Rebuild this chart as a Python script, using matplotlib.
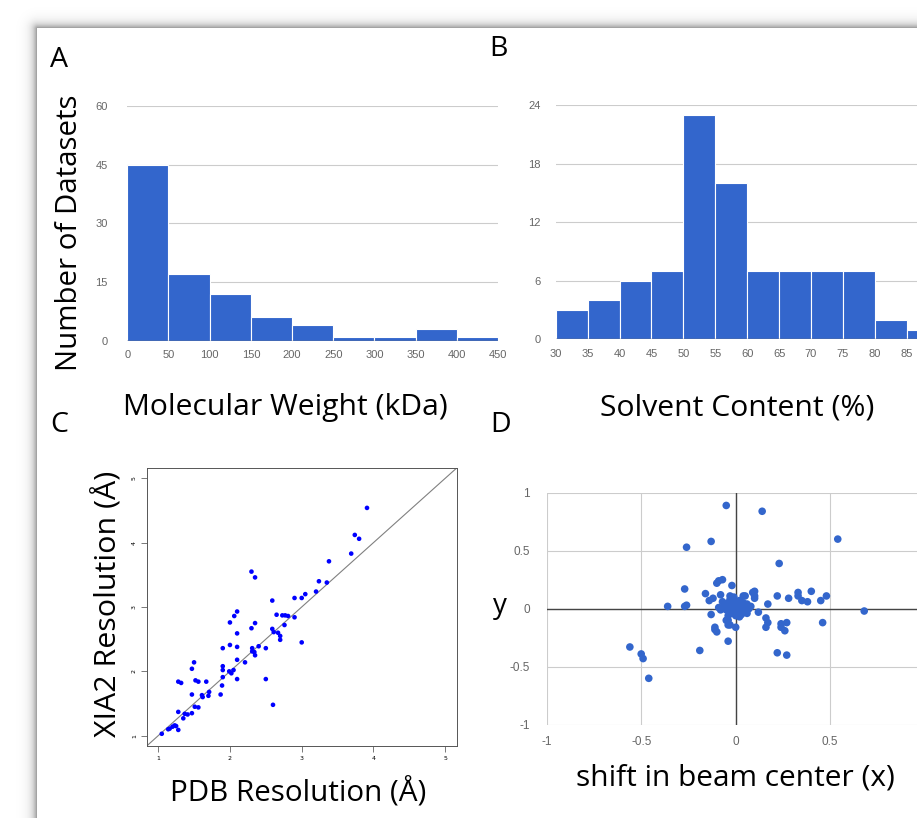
import numpy as np
import matplotlib.pyplot as plt

plt.rcParams['axes.unicode_minus'] = False

W, H = 917, 818
BLUE = '#3366CC'
LABEL_FONT = 'Open Sans'
TICK_FONT = 'Liberation Sans'

# A: molecular weight histogram
mw_edges = [0, 50, 100, 150, 200, 250, 300, 350, 400, 450]
mw_counts = [45, 17, 12, 6, 4, 1, 1, 3, 1]
mw_yticks = [0, 15, 30, 45, 60]

# B: solvent content histogram
sc_edges = [30, 35, 40, 45, 50, 55, 60, 65, 70, 75, 80, 85, 90]
sc_counts = [3, 4, 6, 7, 23, 16, 7, 7, 7, 7, 2, 1]
sc_yticks = [0, 6, 12, 18, 24]

# C: PDB vs XIA2 resolution
pdb_res = [1.05, 1.14, 1.16, 1.20, 1.23, 1.25, 1.28, 1.28, 1.28, 1.32,
           1.35, 1.37, 1.41, 1.47, 1.47, 1.47, 1.50, 1.51, 1.52, 1.56,
           1.56, 1.61, 1.62, 1.67, 1.70, 1.71, 1.87, 1.89, 1.90, 1.90,
           1.90, 1.90, 1.99, 2.00, 2.00, 2.02, 2.05, 2.06, 2.10, 2.10,
           2.10, 2.10, 2.10, 2.21, 2.30, 2.35, 2.35, 2.30, 2.31, 2.31,
           2.34, 2.35, 2.40, 2.50, 2.50, 2.59, 2.59, 2.60, 2.61, 2.65,
           2.67, 2.70, 2.70, 2.73, 2.76, 2.77, 2.81, 2.90, 2.90, 3.00,
           3.00, 3.05, 3.20, 3.24, 3.35, 3.38, 3.69, 3.74, 3.80, 3.91]
xia2_res = [1.03, 1.10, 1.11, 1.14, 1.16, 1.15, 1.09, 1.37, 1.84, 1.82,
            1.27, 1.34, 1.33, 1.35, 1.64, 2.04, 2.14, 1.45, 1.86, 1.84,
            1.44, 1.63, 1.60, 1.84, 1.62, 1.68, 1.64, 1.78, 1.91, 2.36,
            2.02, 2.08, 2.00, 2.41, 2.76, 1.97, 2.02, 2.86, 2.93, 2.59,
            2.38, 2.18, 1.88, 2.14, 3.55, 3.46, 2.75, 2.67, 2.36, 2.31,
            2.30, 2.25, 2.39, 2.36, 1.88, 3.10, 2.66, 1.48, 2.61, 2.88,
            2.60, 2.55, 2.49, 2.87, 2.72, 2.87, 2.86, 3.14, 2.84, 2.45,
            3.14, 3.20, 3.24, 3.40, 3.38, 3.71, 3.83, 4.12, 4.06, 4.54]
res_ticks = [1, 2, 3, 4, 5]

# D: beam centre shift
shift_x = [-0.05, 0.14, -0.13, -0.26, 0.54, 0.23, -0.10, -0.09, -0.07, -0.02,
           -0.27, -0.16, -0.12, -0.14, -0.08, -0.03, 0.10, 0.10, 0.10, 0.04,
           0.22, 0.28, 0.33, 0.33, 0.40, 0.35, 0.38, 0.45, 0.48, 0.17,
           -0.36, -0.27, -0.26, 0.68, 0.12, -0.13, -0.09, -0.08, 0.16, 0.17,
           0.16, -0.04, -0.04, -0.03, 0.00, -0.11, -0.10, -0.11, 0.24, 0.27,
           0.24, 0.26, 0.46, -0.04, -0.19, 0.22, 0.27, -0.56, -0.50, -0.49,
           -0.46, 0.05, 0.09, -0.05,
           -0.06, -0.05, -0.04, -0.03, -0.03, -0.02, -0.02, -0.01, -0.01, 0.00,
           0.00, 0.00, 0.01, 0.01, 0.02, 0.02, 0.03, 0.03, 0.04, 0.04,
           0.05, 0.06, 0.06, 0.07, -0.07, 0.02, -0.04, 0.08]
shift_y = [0.89, 0.84, 0.58, 0.53, 0.60, 0.39, 0.22, 0.24, 0.25, 0.20,
           0.17, 0.13, 0.09, 0.07, 0.12, 0.11, 0.15, 0.11, 0.09, 0.11,
           0.11, 0.09, 0.14, 0.11, 0.15, 0.07, 0.06, 0.07, 0.11, 0.04,
           0.02, 0.02, 0.03, -0.02, -0.03, -0.05, 0.01, -0.01, -0.08, -0.12,
           -0.16, -0.10, -0.14, -0.14, -0.16, -0.16, -0.20, -0.18, -0.13, -0.12,
           -0.16, -0.19, -0.12, -0.28, -0.36, -0.38, -0.40, -0.33, -0.39, -0.43,
           -0.60, 0.11, 0.14, -0.10,
           0.03, -0.01, 0.05, 0.08, 0.00, -0.04, 0.04, 0.10, -0.02, 0.02,
           0.06, -0.06, -0.03, 0.03, 0.00, 0.07, -0.05, 0.02, 0.05, -0.02,
           0.01, -0.04, 0.04, 0.00, 0.06, -0.07, -0.06, 0.02]
shift_ticks = [-1, -0.5, 0, 0.5, 1]

fig = plt.figure(figsize=(W / 100, H / 100), dpi=100)
renderer = fig.canvas.get_renderer()


def px_axes(left, top, right, bottom):
    # axes placed by pixel edges of the 917x818 canvas
    return fig.add_axes([left / W, 1 - bottom / H, (right - left) / W, (bottom - top) / H])


def label(x, y, s, size=20, span=None, **kw):
    t = fig.text(x / W, 1 - y / H, s, fontsize=size, family=LABEL_FONT, color='black', **kw)
    if span is not None:
        # scale the font so the text covers the same length as in the reference
        for _ in range(2):
            bb = t.get_window_extent(renderer)
            cur = bb.height if kw.get('rotation') == 90 else bb.width
            t.set_fontsize(t.get_fontsize() * span / cur)
    return t


# page with a soft drop shadow
bg = fig.add_axes([0, 0, 1, 1], zorder=-10)
yy, xx = np.mgrid[0:H, 0:W]
d = np.hypot(np.clip(37 - xx, 0, None), np.clip(28 - yy, 0, None))
shade = np.where((xx >= 37) & (yy >= 28), 1.0, 1 - 0.45 * np.exp(-d / 4.5))
bg.imshow(shade, cmap='gray', vmin=0, vmax=1, extent=[0, W, H, 0], aspect='auto')
bg.axis('off')


def google_hist(ax, edges, counts, yticks, ypad):
    ax.bar(edges[:-1], counts, width=np.diff(edges), align='edge', color=BLUE,
           edgecolor='white', linewidth=0.8, zorder=3)
    ax.set_xlim(edges[0], edges[-1])
    ax.set_ylim(yticks[0], yticks[-1])
    ax.set_xticks(edges)
    ax.set_yticks(yticks)
    ax.set_axisbelow(True)
    ax.grid(axis='y', color='#cccccc', linewidth=0.8)
    ax.axhline(0, color='#555555', linewidth=1.0, zorder=4)
    for s in ax.spines.values():
        s.set_visible(False)
    ax.tick_params(length=0, labelsize=8, labelcolor='#666666')
    ax.tick_params(axis='x', pad=7)
    ax.tick_params(axis='y', pad=ypad)
    for t in ax.get_xticklabels() + ax.get_yticklabels():
        t.set_family(TICK_FONT)


# A
axA = px_axes(127.3, 106, 498, 340.7)
google_hist(axA, mw_edges, mw_counts, mw_yticks, 14)

# B (runs off the right edge of the page)
axB = px_axes(555.7, 105, 555.7 + 60 * 6.382, 339.3)
google_hist(axB, sc_edges, sc_counts, sc_yticks, 11)
axB.set_xticks(sc_edges[:-1])

# C
axC = px_axes(146.7, 468, 456.7, 746)
axC.set_xlim(0.84, 5.16)
axC.set_ylim(0.84, 5.16)
axC.plot([0.84, 5.16], [0.84, 5.16], color='#808080', linewidth=0.8, zorder=2)
axC.scatter(pdb_res, xia2_res, s=11, color='#0000FF', edgecolors='none', zorder=3)
axC.set_xticks(res_ticks)
axC.set_yticks(res_ticks)
axC.tick_params(direction='out', length=4, width=0.5, labelsize=4.5, pad=3, color='#444444')
for t in axC.get_yticklabels():
    t.set_rotation(90)
    t.set_va('center')
for s in axC.spines.values():
    s.set_color('#555555')
    s.set_linewidth(0.7)

# D (runs off the right edge of the page)
axD = px_axes(546.7, 492.7, 924.7, 724.7)
axD.set_xlim(-1, 1)
axD.set_ylim(-1, 1)
axD.set_xticks(shift_ticks)
axD.set_yticks(shift_ticks)
axD.set_xticklabels(['%g' % v for v in shift_ticks[:-1]] + [''])
axD.set_yticklabels(['%g' % v for v in shift_ticks])
axD.set_axisbelow(True)
axD.grid(color='#cccccc', linewidth=0.8)
axD.axhline(0, color='#444444', linewidth=1.0, zorder=2)
axD.axvline(0, color='#444444', linewidth=1.0, zorder=2)
axD.scatter(shift_x, shift_y, s=30, color=BLUE, edgecolors='none', zorder=3)
for s in axD.spines.values():
    s.set_visible(False)
axD.tick_params(length=0, labelsize=8.5, labelcolor='#666666')
axD.tick_params(axis='x', pad=8)
axD.tick_params(axis='y', pad=12)
for t in axD.get_xticklabels() + axD.get_yticklabels():
    t.set_family(TICK_FONT)

# panel letters and axis titles
label(50, 60, 'A', 20.5, ha='left', va='center')
label(489, 49, 'B', 20.5, ha='left', va='center')
label(50, 425, 'C', 20.5, ha='left', va='center')
label(490, 425, 'D', 20.5, ha='left', va='center')

label(285.5, 415, 'Molecular Weight (kDa)', span=325, ha='center', va='baseline')
label(737.5, 415, 'Solvent Content (%)', span=275, ha='center', va='baseline')
label(70, 233, 'Number of Datasets', span=276, ha='center', va='center', rotation=90)
label(108, 604, 'XIA2 Resolution (Å)', span=266, ha='center', va='center', rotation=90)
label(298, 802, 'PDB Resolution (Å)', span=256, ha='center', va='baseline')
label(735.5, 785, 'shift in beam center (x)', span=319, ha='center', va='baseline')
label(500, 613, 'y', 20, ha='center', va='baseline')

fig.savefig('out.png', dpi=100)
